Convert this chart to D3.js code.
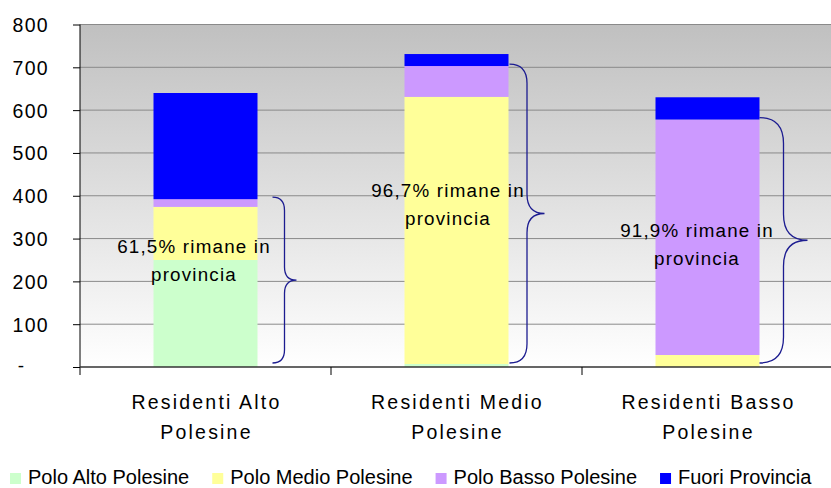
<!DOCTYPE html>
<html>
<head>
<meta charset="utf-8">
<script src="https://cdn.jsdelivr.net/npm/d3@7"></script>
<style>
    body { margin: 0; background: #fff; }
    svg { display: block; }
    text { font-family: "Liberation Sans", Arial, sans-serif; fill: #000; }
</style>
</head>
<body>
<svg id="chart" width="831" height="488"></svg>
<script>
// data
var categories = ["Residenti Alto Polesine", "Residenti Medio Polesine", "Residenti Basso Polesine"]
var categoryLines = [["Residenti Alto", "Polesine"], ["Residenti Medio", "Polesine"], ["Residenti Basso", "Polesine"]]
var seriesNames = ["Polo Alto Polesine", "Polo Medio Polesine", "Polo Basso Polesine", "Fuori Provincia"]
var poloAlto = [250, 7, 0]
var poloMedio = [124, 624, 28]
var poloBasso = [18, 72, 550]
var fuoriProvincia = [248, 28, 52]
var shareInProvincia = ["61,5%", "96,7%", "91,9%"]
var yTicks = [0, 100, 200, 300, 400, 500, 600, 700, 800]

var colors = ["#CCFFCC", "#FFFF99", "#CC99FF", "#0000FF"]

var svg = d3.select("#chart")
var W = 831, H = 488
// note: "top" is taken by window.top, so plot edges get their own names
var plotLeft = 80, plotTop = 24.5, plotBottom = 367
var bandW = 251

var x = d3.scaleBand().domain(categories).range([plotLeft, plotLeft + bandW * 3])
var y = d3.scaleLinear().domain([0, 800]).range([plotBottom, plotTop])
var barW = 104

// rows for the stack
var rows = categories.map((c, i) => ({
    cat: c,
    s0: poloAlto[i], s1: poloMedio[i], s2: poloBasso[i], s3: fuoriProvincia[i]
}))
var stacked = d3.stack().keys(["s0", "s1", "s2", "s3"])(rows)

// plot background
var defs = svg.append("defs")
var grad = defs.append("linearGradient").attr("id", "bg")
    .attr("x1", 0).attr("y1", 0).attr("x2", 0).attr("y2", 1)
grad.append("stop").attr("offset", "0%").attr("stop-color", "#c0c0c0")
grad.append("stop").attr("offset", "100%").attr("stop-color", "#ffffff")

svg.append("rect")
    .attr("x", plotLeft).attr("y", plotTop)
    .attr("width", W - plotLeft).attr("height", plotBottom - plotTop)
    .attr("fill", "url(#bg)")

// gridlines
svg.append("g").selectAll("line")
    .data(yTicks.filter(d => d > 0)).enter()
    .append("line")
    .attr("x1", plotLeft).attr("x2", W)
    .attr("y1", d => y(d)).attr("y2", d => y(d))
    .attr("stroke", "#8a8a8a").attr("stroke-width", 1)

// bars
var layers = svg.append("g").selectAll("g")
    .data(stacked).enter()
    .append("g")
    .attr("fill", (d, i) => colors[i])

layers.selectAll("rect")
    .data(d => d).enter()
    .append("rect")
    .attr("x", d => x(d.data.cat) + (bandW - barW) / 2)
    .attr("width", barW)
    .attr("y", d => y(d[1]))
    .attr("height", d => y(d[0]) - y(d[1]))

// y axis
var yAxis = d3.axisLeft(y).tickValues(yTicks).tickSize(7)
    .tickFormat(d => d === 0 ? "" : d)
var ya = svg.append("g").attr("transform", `translate(${plotLeft},0)`).call(yAxis)
ya.select(".domain").remove()
ya.selectAll(".tick line").attr("stroke", "#000")
ya.selectAll(".tick text")
    .attr("x", -31).attr("dy", "0.36em")
    .style("font-size", "19.5px").style("letter-spacing", "1.3px")
    .style("font-family", "'Liberation Sans', Arial, sans-serif").attr("fill", "#000")
svg.append("text").attr("x", 21).attr("y", y(0)).attr("dy", "0.25em")
    .attr("text-anchor", "middle").style("font-size", "19px").text("-")

svg.append("line")
    .attr("x1", plotLeft).attr("x2", plotLeft).attr("y1", plotTop).attr("y2", plotBottom + 8)
    .attr("stroke", "#000").attr("stroke-width", 1)

// x axis
svg.append("line")
    .attr("x1", plotLeft).attr("x2", W).attr("y1", plotBottom).attr("y2", plotBottom)
    .attr("stroke", "#333").attr("stroke-width", 1.6)
svg.append("g").selectAll("line")
    .data(categories).enter()
    .append("line")
    .attr("x1", d => x(d) + bandW).attr("x2", d => x(d) + bandW)
    .attr("y1", plotBottom).attr("y2", plotBottom + 8)
    .attr("stroke", "#000")

var catText = svg.append("g").selectAll("text")
    .data(categories).enter()
    .append("text")
    .attr("text-anchor", "middle")
    .style("font-size", "19.5px").style("letter-spacing", "2.2px")
catText.selectAll("tspan")
    .data((d, i) => categoryLines[i]).enter()
    .append("tspan")
    .attr("x", function () { return x(d3.select(this.parentNode).datum()) + bandW / 2 + 1 })
    .attr("y", (d, j) => 409 + j * 30)
    .text(d => d)

// braces: bar right edge offset, width
var braceLayout = [{ dx: 15, w: 24 }, { dx: 1, w: 35 }, { dx: 0, w: 48 }]
var bracePath = (x0, w, yT, yB) => {
    var xv = x0 + w / 2, xt = x0 + w, yM = (yT + yB) / 2
    var r = Math.min(w * 0.55, 26)
    return `M${x0},${yT} Q${xv},${yT} ${xv},${yT + r} L${xv},${yM - r} ` +
        `Q${xv},${yM} ${xt},${yM} Q${xv},${yM} ${xv},${yM + r} ` +
        `L${xv},${yB - r} Q${xv},${yB} ${x0},${yB}`
}
svg.append("g").selectAll("path")
    .data(rows).enter()
    .append("path")
    .attr("d", (d, i) => {
        var b = braceLayout[i]
        var x0 = x(d.cat) + (bandW + barW) / 2 + b.dx
        return bracePath(x0, b.w, y(d.s0 + d.s1 + d.s2) - 2, y(0) - 4)
    })
    .attr("fill", "none").attr("stroke", "#1c1c90").attr("stroke-width", 1.3)

// annotation text
var noteLayout = [{ cx: 194, y: 253 }, { cx: 448, y: 197 }, { cx: 697, y: 237 }]
var notes = svg.append("g").selectAll("text")
    .data(shareInProvincia).enter()
    .append("text")
    .attr("text-anchor", "middle")
    .style("font-size", "18.8px").style("letter-spacing", "1.2px")
notes.append("tspan")
    .attr("x", (d, i) => noteLayout[i].cx).attr("y", (d, i) => noteLayout[i].y)
    .text(d => `${d} rimane in`)
notes.append("tspan")
    .attr("x", (d, i) => noteLayout[i].cx).attr("y", (d, i) => noteLayout[i].y + 28)
    .text("provincia")

// legend
var legend = svg.append("g")
var lx = 10
seriesNames.forEach((name, i) => {
    legend.append("rect")
        .attr("x", lx).attr("y", 473).attr("width", 11).attr("height", 11)
        .attr("fill", colors[i])
    var t = legend.append("text")
        .attr("x", lx + 18).attr("y", 484)
        .style("font-size", "20px")
        .text(name)
    lx += 18 + t.node().getComputedTextLength() + 23
})
</script>
</body>
</html>
